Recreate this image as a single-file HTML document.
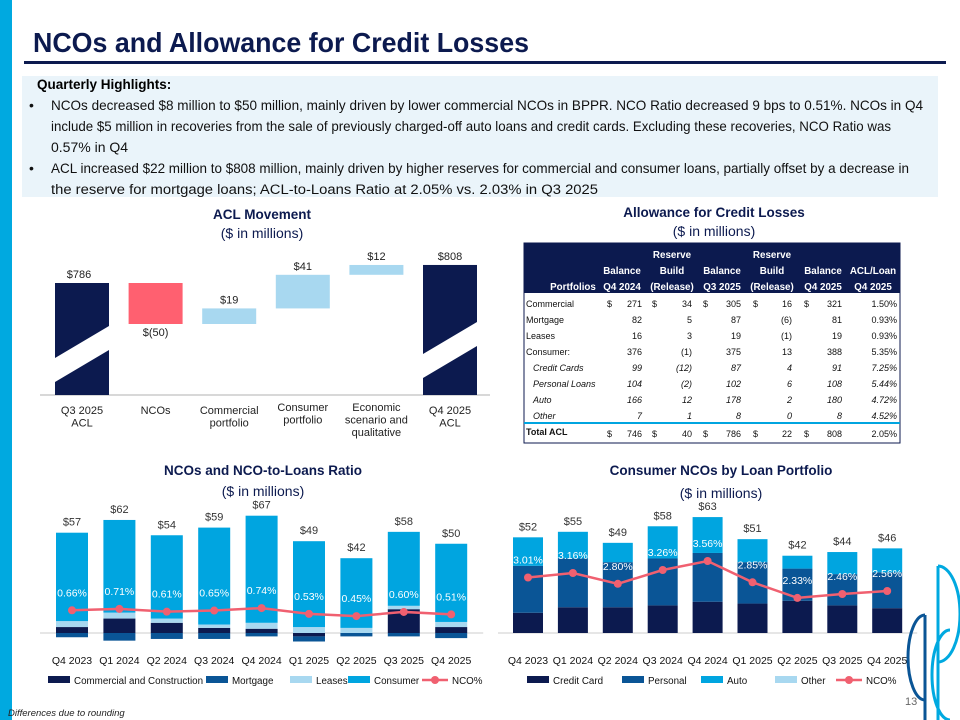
<!DOCTYPE html>
<html><head><meta charset="utf-8"><style>
body{margin:0;background:#fff}
svg{display:block;font-family:"Liberation Sans",Arial,sans-serif}
</style></head><body>
<svg id="s" width="960" height="720" viewBox="0 0 960 720">
<rect x="0" y="0" width="12" height="720" fill="#00a9e0"/>
<text x="33" y="52" font-size="28" font-weight="bold" fill="#0c1a4f" textLength="496" lengthAdjust="spacingAndGlyphs">NCOs and Allowance for Credit Losses</text>
<rect x="24" y="61" width="922" height="3" fill="#0c1a4f"/>
<g>
<rect x="22" y="76" width="916" height="121" fill="#eaf4fa"/>
<text x="37" y="89" font-size="13.5" font-weight="bold" fill="#000">Quarterly Highlights:</text>
<g font-size="14" fill="#111">
<text x="29" y="110">•</text><text x="51" y="110" textLength="872" lengthAdjust="spacingAndGlyphs">NCOs decreased $8 million to $50 million, mainly driven by lower commercial NCOs in BPPR. NCO Ratio decreased 9 bps to 0.51%. NCOs in Q4</text>
<text x="51" y="131" textLength="840" lengthAdjust="spacingAndGlyphs">include $5 million in recoveries from the sale of previously charged-off auto loans and credit cards. Excluding these recoveries, NCO Ratio was</text>
<text x="51" y="152">0.57% in Q4</text>
<text x="29" y="173">•</text><text x="51" y="173" textLength="858" lengthAdjust="spacingAndGlyphs">ACL increased $22 million to $808 million, mainly driven by higher reserves for commercial and consumer loans, partially offset by a decrease in</text>
<text x="51" y="194" textLength="547" lengthAdjust="spacingAndGlyphs" font-size="13.5">the reserve for mortgage loans; ACL-to-Loans Ratio at 2.05% vs. 2.03% in Q3 2025</text>
</g></g>
<g font-size="13.5" fill="#0c1a4f" text-anchor="middle">
<text x="262" y="219" font-weight="bold">ACL Movement</text>
<text x="262" y="238" font-size="14">($ in millions)</text>
<text x="714" y="217" font-weight="bold">Allowance for Credit Losses</text>
<text x="714" y="236" font-size="14">($ in millions)</text>
<text x="263" y="475" font-weight="bold">NCOs and NCO-to-Loans Ratio</text>
<text x="263" y="496" font-size="14">($ in millions)</text>
<text x="721" y="475" font-weight="bold">Consumer NCOs by Loan Portfolio</text>
<text x="721" y="498" font-size="14">($ in millions)</text>
</g>
<g id="wf"></g>
<g id="tbl"></g>
<g id="nco"></g>
<g id="cons"></g>
<g fill="none" stroke-width="3">
<path d="M938 566 A22 48 0 0 1 938 662" stroke="#00a9e0"/>
<path d="M938 566 L938 720" stroke="#00a9e0"/>
<path d="M925 615 A16 40 0 0 0 925 700" stroke="#0a5596"/>
<path d="M925 615 L925 720" stroke="#0a5596"/>
<path d="M950 630 A18 45 0 0 0 950 720" stroke="#00a9e0"/>
</g>
<text x="905" y="705" font-size="11" fill="#666">13</text>
<text x="8" y="716" font-size="9.5" font-style="italic" fill="#222">Differences due to rounding</text>
</svg>
<script>
// ===== Waterfall data =====
const wfCats=[["Q3 2025","ACL"],["NCOs"],["Commercial","portfolio"],["Consumer","portfolio"],["Economic","scenario and","qualitative"],["Q4 2025","ACL"]];
const wfValues=[786,-50,19,41,12,808];
const wfLabels=["$786","$(50)","$19","$41","$12","$808"];
// ===== Table data =====
const tblRows=["Commercial","Mortgage","Leases","Consumer:","Credit Cards","Personal Loans","Auto","Other"];
const tblBal24=["271","82","16","376","99","104","166","7"];
const tblBuild1=["34","5","3","(1)","(12)","(2)","12","1"];
const tblBal3=["305","87","19","375","87","102","178","8"];
const tblBuild2=["16","(6)","(1)","13","4","6","2","0"];
const tblBal4=["321","81","19","388","91","108","180","8"];
const tblRatio=["1.50%","0.93%","0.93%","5.35%","7.25%","5.44%","4.72%","4.52%"];
const tblTotal=["746","40","786","22","808","2.05%"];
// ===== NCO chart data =====
const qCats=["Q4 2023","Q1 2024","Q2 2024","Q3 2024","Q4 2024","Q1 2025","Q2 2025","Q3 2025","Q4 2025"];
const ncoCommercial=[3.5,8.5,6,3,2.5,-2,0,14,3.5];
const ncoMortgage=[-2.5,-4.5,-3.5,-3.5,-2,-3,-2,-2,-3];
const ncoLeases=[3.5,3.5,2.5,2,3.5,3.5,3,2,3];
const ncoConsumer=[52,54.5,49,57,63,50.5,41,43.5,46];
const ncoTotals=["$57","$62","$54","$59","$67","$49","$42","$58","$50"];
const ncoRatio=[0.66,0.71,0.61,0.65,0.74,0.53,0.45,0.60,0.51];
// ===== Consumer chart data =====
const cCredit=[11,14,14,15,17,16,17.5,15,13.5];
const cPersonal=[25.5,26.5,24.5,25.5,26.5,22.5,17.5,17,19.5];
const cAuto=[15.5,14.5,10.5,17.5,19.5,12.5,7,12,13];
const cOther=[0,0,0,0,0,0,0,0,0];
const cTotals=["$52","$55","$49","$58","$63","$51","$42","$44","$46"];
const cRatio=[3.01,3.16,2.80,3.26,3.56,2.85,2.33,2.46,2.56];

const NS="http://www.w3.org/2000/svg";
function mk(p,tag,at){const e=document.createElementNS(NS,tag);for(const k in at)e.setAttribute(k,at[k]);p.appendChild(e);return e;}
function tx(p,x,y,s,at){const e=mk(p,"text",Object.assign({x:x,y:y},at||{}));e.textContent=s;return e;}
const NAVY="#0c1a4f",BLUE="#0a5596",CYAN="#00a5e0",LIGHT="#a8d8f0",RED="#f06070";

// ---- Waterfall ----
(function(){
const g=document.getElementById("wf");
const base=395;
const yW=v=>283-(v-786)*0.82;
const xW=i=>55+i*73.6;const bw=54;
mk(g,"line",{x1:40,x2:490,y1:base,y2:base,stroke:"#ccc","stroke-width":1.5});
let run=0;
wfValues.forEach((v,i)=>{
 let top,bot,fill;
 if(i===0||i===wfValues.length-1){run=v;top=yW(v);bot=base;fill=NAVY;}
 else{const a=run,b=run+v;run=b;top=yW(Math.max(a,b));bot=yW(Math.min(a,b));fill=v<0?"#ff6070":LIGHT;}
 const r=mk(g,"rect",{x:xW(i),y:top,width:bw,height:bot-top,fill:fill});
 
 
 if(fill===NAVY){
  const x0=xW(i),x1=x0+bw,off=i===0?0:-4;
  const br=mk(g,"polygon",{points:`${x0},${358+off} ${x1},${326+off} ${x1},${350+off} ${x0},${382+off}`,fill:"#fff"});
  
  
 }
 const ly=v<0?bot+12:top-5;
 const t=tx(g,xW(i)+bw/2+(i===0?-3:0),ly,wfLabels[i],{"font-size":11,"text-anchor":"middle",fill:"#222"});
 
 
 wfCats[i].forEach((s,j)=>{const c=tx(g,xW(i)+bw/2,414+j*12.5+(i===3||i===4?-3:0),s,{"font-size":11,"text-anchor":"middle",fill:"#222"});
 
 });
});
})();

// ---- Table ----
(function(){
const g=document.getElementById("tbl");
mk(g,"rect",{x:524,y:243,width:376,height:50,fill:"#0c1a4f"});
mk(g,"rect",{x:524,y:243,width:376,height:200,fill:"none",stroke:"#0c1a4f","stroke-width":1});
const hc=[[573,["","","Portfolios"]],[622,["","Balance","Q4 2024"]],[672,["Reserve","Build","(Release)"]],[722,["","Balance","Q3 2025"]],[772,["Reserve","Build","(Release)"]],[823,["","Balance","Q4 2025"]],[873,["","ACL/Loan","Q4 2025"]]];
hc.forEach(([x,ls])=>ls.forEach((s,j)=>{if(s){const t=tx(g,x,258+j*16,s,{"font-size":9.8,"font-weight":"bold",fill:"#fff","text-anchor":"middle"});

}}));
const right=[642,692,741,792,842,897];const dollars=[607,652,703,753,804];
tblRows.forEach((r,i)=>{
 const y=307+i*16;const it=i>=4;
 const row=mk(g,"g",{"font-size":9,fill:"#111","font-style":it?"italic":"normal"});
 
 
 tx(row,it?533:526,y,r,{});
 [tblBal24,tblBuild1,tblBal3,tblBuild2,tblBal4,tblRatio].forEach((arr,k)=>tx(row,right[k],y,arr[i],{"text-anchor":"end"}));
 if(i===0)dollars.forEach(x=>tx(row,x,y,"$",{}));
});
mk(g,"line",{x1:524,x2:900,y1:423,y2:423,stroke:"#00a5e0","stroke-width":2});
const tr=mk(g,"g",{"font-size":9,fill:"#111"});


tx(tr,526,435,"Total ACL",{"font-weight":"bold"});
tblTotal.forEach((v,k)=>tx(tr,right[k],437,v,{"text-anchor":"end"}));
dollars.forEach(x=>tx(tr,x,437,"$",{}));
})();

// ---- Stacked chart helper ----
function stacked(g,opts){
 const {cx,bw,base,scale,series,colors,totals,ratio,ry,rlabOff,labColor,leg}=opts;
 mk(g,"line",{x1:cx(0)-bw,x2:cx(8)+bw,y1:base,y2:base,stroke:"#ddd","stroke-width":1.5});
 qCats.forEach((q,i)=>{
  let pos=0,neg=0;
  series.forEach((s,k)=>{const v=s[i];if(!v)return;let y0,y1;
   if(v>0){y0=base-(pos+v)*scale;y1=base-pos*scale;pos+=v;}else{y0=base+neg*scale;y1=base+(neg-v)*scale;neg-=v;}
   const r=mk(g,"rect",{x:cx(i)-bw/2,y:y0,width:bw,height:y1-y0,fill:colors[k]});
   
   
  });
  const top=base-pos*scale;
  const t=tx(g,cx(i),top-7,totals[i],{"font-size":11,"text-anchor":"middle",fill:"#333"});
  
  
  const c=tx(g,cx(i),664,q,{"font-size":10.5,"text-anchor":"middle",fill:"#111"});
  
  
 });
 const pts=ratio.map((p,i)=>[cx(i),ry(p)]);
 const l=mk(g,"polyline",{points:pts.map(p=>p.join(",")).join(" "),fill:"none",stroke:RED,"stroke-width":2.5});
 
 
 pts.forEach((p,i)=>{const d=mk(g,"circle",{cx:p[0],cy:p[1],r:4,fill:RED});
 
 
 const t=tx(g,p[0],p[1]-rlabOff,ratio[i].toFixed(2)+"%",{"font-size":10.5,"text-anchor":"middle",fill:labColor});
 
 });
 leg.forEach(([x,type,color,label])=>{
  const lg=mk(g,"g",{});
  
  
  if(type==="r")mk(lg,"rect",{x:x,y:676,width:22,height:7,fill:color});
  else{mk(lg,"line",{x1:x,x2:x+26,y1:680,y2:680,stroke:color,"stroke-width":2.5});mk(lg,"circle",{cx:x+13,cy:680,r:4,fill:color});}
  tx(lg,x+(type==="r"?26:30),684,label,{"font-size":9.8,fill:"#111"});
 });
}
stacked(document.getElementById("nco"),{cx:i=>72+i*47.4,bw:32,base:633,scale:1.7,
 series:[ncoCommercial,ncoMortgage,ncoLeases,ncoConsumer],colors:[NAVY,BLUE,LIGHT,CYAN],totals:ncoTotals,
 ratio:ncoRatio,ry:p=>628.5-p*27.6,rlabOff:14,labColor:"#fff",
 leg:[[48,"r",NAVY,"Commercial and Construction"],[206,"r",BLUE,"Mortgage"],[290,"r",LIGHT,"Leases"],[348,"r",CYAN,"Consumer"],[422,"l",RED,"NCO%"]]});
stacked(document.getElementById("cons"),{cx:i=>528+i*44.9,bw:30,base:633,scale:1.84,
 series:[cCredit,cPersonal,cAuto,cOther],colors:[NAVY,BLUE,CYAN,LIGHT],totals:cTotals,
 ratio:cRatio,ry:p=>561+(3.56-p)*30,rlabOff:14,labColor:"#fff",
 leg:[[527,"r",NAVY,"Credit Card"],[622,"r",BLUE,"Personal"],[701,"r",CYAN,"Auto"],[775,"r",LIGHT,"Other"],[836,"l",RED,"NCO%"]]});
</script>
</body></html>
